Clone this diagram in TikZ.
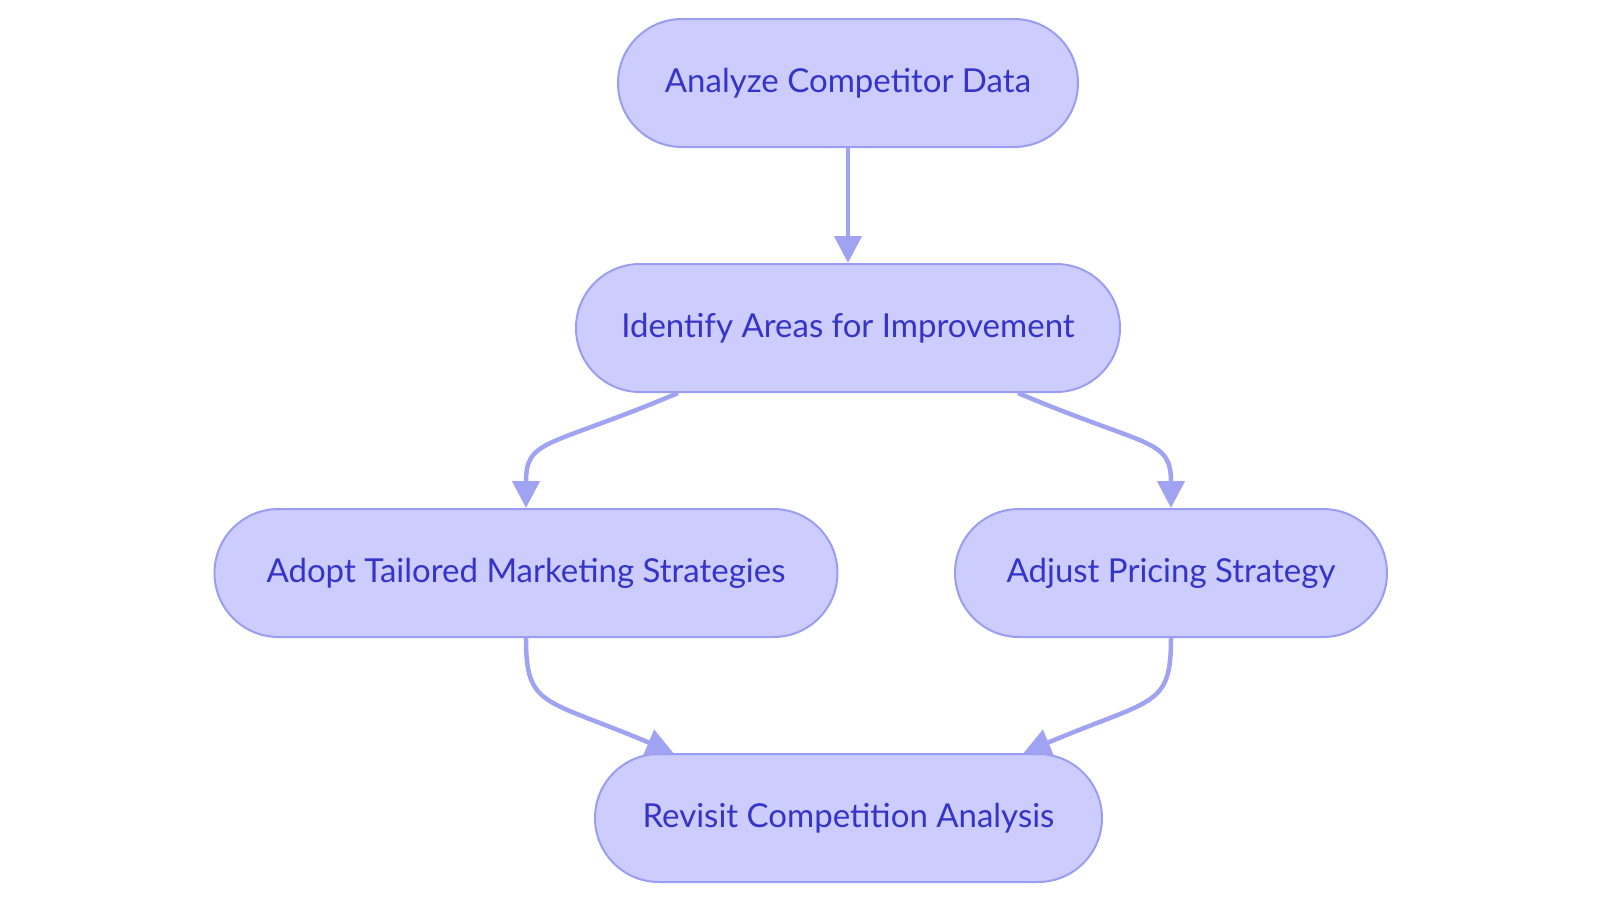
\documentclass[tikz,border=0pt]{standalone}
\usepackage{fontspec}
\setmainfont{Lato}
\usepackage{xcolor}
\usetikzlibrary{positioning,arrows.meta,calc}
\definecolor{nodebg}{HTML}{CCCCFF}
\definecolor{nodeline}{HTML}{9A9DF2}
\definecolor{edge}{HTML}{A0A3F2}
\definecolor{label}{HTML}{3434C8}

\begin{document}
\begin{tikzpicture}[
  font=\fontsize{33pt}{40pt}\selectfont,
  box/.style={draw=nodeline, line width=2pt, fill=nodebg, text=label, rounded corners=64pt, minimum height=128pt, align=center},
  ar/.style={-{Triangle[length=27pt, width=27pt]}, draw=edge, line width=4.5pt}
]
\node[box, minimum width=460pt] (analyze) {Analyze Competitor Data};
\node[box, minimum width=544pt, below=115pt of analyze] (identify) {Identify Areas for Improvement};
\node[box, minimum width=623pt, below=115pt of identify, xshift=-322pt] (adopt) {Adopt Tailored Marketing Strategies};
\node[box, minimum width=432pt, below=115pt of identify, xshift=323pt] (pricing) {Adjust Pricing Strategy};
\node[box, minimum width=507pt, anchor=north] (revisit) at ($(adopt.south)!0.5!(pricing.south) - (0,115pt)$) {Revisit Competition Analysis};

% page size of the reference
\useasboundingbox ($(analyze.center)+(-848pt,83pt)$) rectangle ($(analyze.center)+(752pt,-820pt)$);

\draw[ar] (analyze) -- (identify);
\draw[ar] ([xshift=-170pt]identify.south) .. controls +(-130pt,-55pt) and +(0,70pt) .. (adopt.north);
\draw[ar] ([xshift=170pt]identify.south) .. controls +(130pt,-55pt) and +(0,70pt) .. (pricing.north);
\draw[ar] (adopt.south) .. controls +(0,-70pt) and +(-130pt,55pt) .. ([xshift=-175pt]revisit.north);
\draw[ar] (pricing.south) .. controls +(0,-70pt) and +(130pt,55pt) .. ([xshift=175pt]revisit.north);
\end{tikzpicture}
\end{document}
